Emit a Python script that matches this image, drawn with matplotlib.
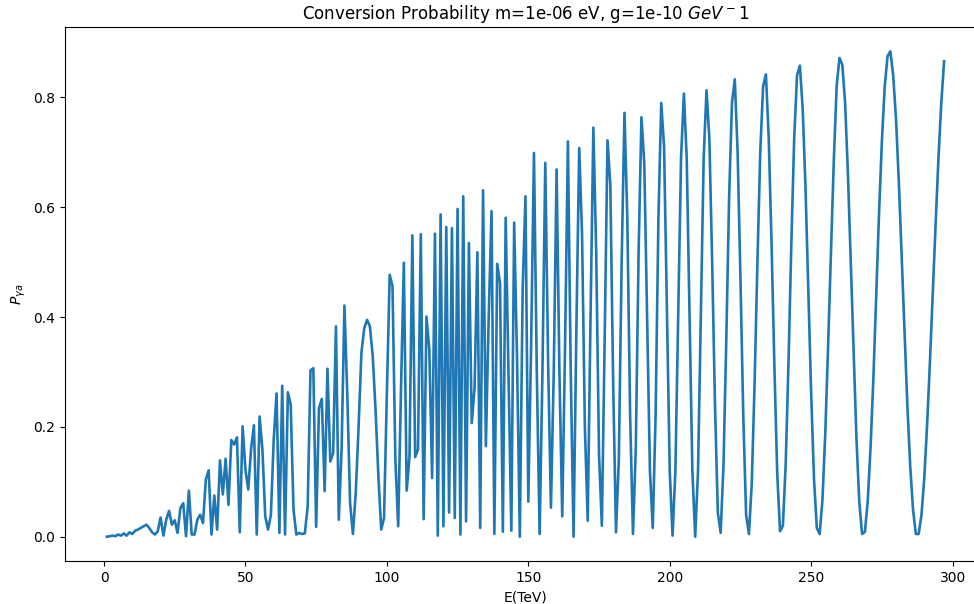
import numpy as np
import matplotlib
matplotlib.use("Agg")
import matplotlib.pyplot as plt

# energies (TeV), one sample per TeV
energy = np.arange(1, 298)

# conversion probability, 10 values per row
prob = [
    0.000, 0.001, 0.002, 0.001, 0.004, 0.002, 0.006, 0.002, 0.008, 0.005,
    0.011, 0.013, 0.016, 0.019, 0.022, 0.016, 0.008, 0.004, 0.010, 0.035,
    0.002, 0.031, 0.047, 0.022, 0.030, 0.007, 0.052, 0.061, 0.001, 0.084,
    0.004, 0.004, 0.031, 0.040, 0.025, 0.104, 0.121, 0.004, 0.075, 0.013,
    0.139, 0.077, 0.142, 0.058, 0.176, 0.168, 0.181, 0.008, 0.201, 0.122,
    0.086, 0.160, 0.203, 0.004, 0.219, 0.159, 0.037, 0.013, 0.040, 0.177,
    0.261, 0.007, 0.275, 0.004, 0.263, 0.241, 0.049, 0.004, 0.007, 0.005,
    0.006, 0.055, 0.303, 0.307, 0.018, 0.234, 0.251, 0.083, 0.306, 0.137,
    0.152, 0.383, 0.031, 0.160, 0.421, 0.260, 0.061, 0.005, 0.080, 0.200,
    0.335, 0.380, 0.395, 0.383, 0.329, 0.231, 0.110, 0.013, 0.034, 0.262,
    0.477, 0.456, 0.140, 0.019, 0.270, 0.499, 0.084, 0.146, 0.549, 0.145,
    0.159, 0.551, 0.032, 0.401, 0.341, 0.107, 0.552, 0.002, 0.587, 0.019,
    0.564, 0.044, 0.562, 0.034, 0.597, 0.004, 0.620, 0.028, 0.535, 0.207,
    0.270, 0.518, 0.016, 0.631, 0.165, 0.400, 0.593, 0.005, 0.497, 0.462,
    0.009, 0.581, 0.300, 0.011, 0.572, 0.330, 0.000, 0.450, 0.620, 0.064,
    0.350, 0.699, 0.300, 0.005, 0.300, 0.681, 0.320, 0.053, 0.300, 0.669,
    0.300, 0.037, 0.350, 0.720, 0.300, 0.000, 0.380, 0.708, 0.550, 0.200,
    0.029, 0.400, 0.745, 0.520, 0.150, 0.020, 0.360, 0.722, 0.640, 0.280,
    0.008, 0.140, 0.500, 0.772, 0.580, 0.220, 0.005, 0.160, 0.520, 0.764,
    0.680, 0.400, 0.120, 0.016, 0.220, 0.580, 0.790, 0.710, 0.420, 0.120,
    0.002, 0.120, 0.400, 0.690, 0.807, 0.690, 0.400, 0.120, 0.000, 0.120,
    0.410, 0.690, 0.813, 0.726, 0.500, 0.240, 0.044, 0.007, 0.130, 0.360,
    0.620, 0.790, 0.833, 0.700, 0.470, 0.220, 0.040, 0.005, 0.097, 0.280,
    0.500, 0.700, 0.820, 0.842, 0.726, 0.533, 0.310, 0.115, 0.010, 0.020,
    0.133, 0.320, 0.536, 0.726, 0.840, 0.858, 0.780, 0.635, 0.450, 0.260,
    0.105, 0.016, 0.005, 0.068, 0.190, 0.350, 0.520, 0.685, 0.820, 0.872,
    0.860, 0.790, 0.660, 0.500, 0.335, 0.180, 0.064, 0.005, 0.009, 0.065,
    0.163, 0.290, 0.440, 0.590, 0.720, 0.820, 0.875, 0.884, 0.840, 0.760,
    0.645, 0.510, 0.370, 0.240, 0.130, 0.050, 0.005, 0.005, 0.040, 0.108,
    0.205, 0.320, 0.445, 0.570, 0.690, 0.790, 0.866,
]

m_a = "1e-06"
g_ag = "1e-10"

fig = plt.figure(figsize=(9.74, 6.04), dpi=100)
# the reference is cropped on the right, so the axes run past the figure edge
ax = fig.add_axes([0.0667, 0.0712, 0.9456, 0.884])
ax.plot(energy, prob, lw=1.9)
ax.set_xlabel("E(TeV)")
ax.set_ylabel(r"$P_{\gamma a}$")
ax.set_title(f"Conversion Probability m={m_a} eV, g={g_ag} $GeV^-1$")

fig.savefig("out.png", dpi=100)
